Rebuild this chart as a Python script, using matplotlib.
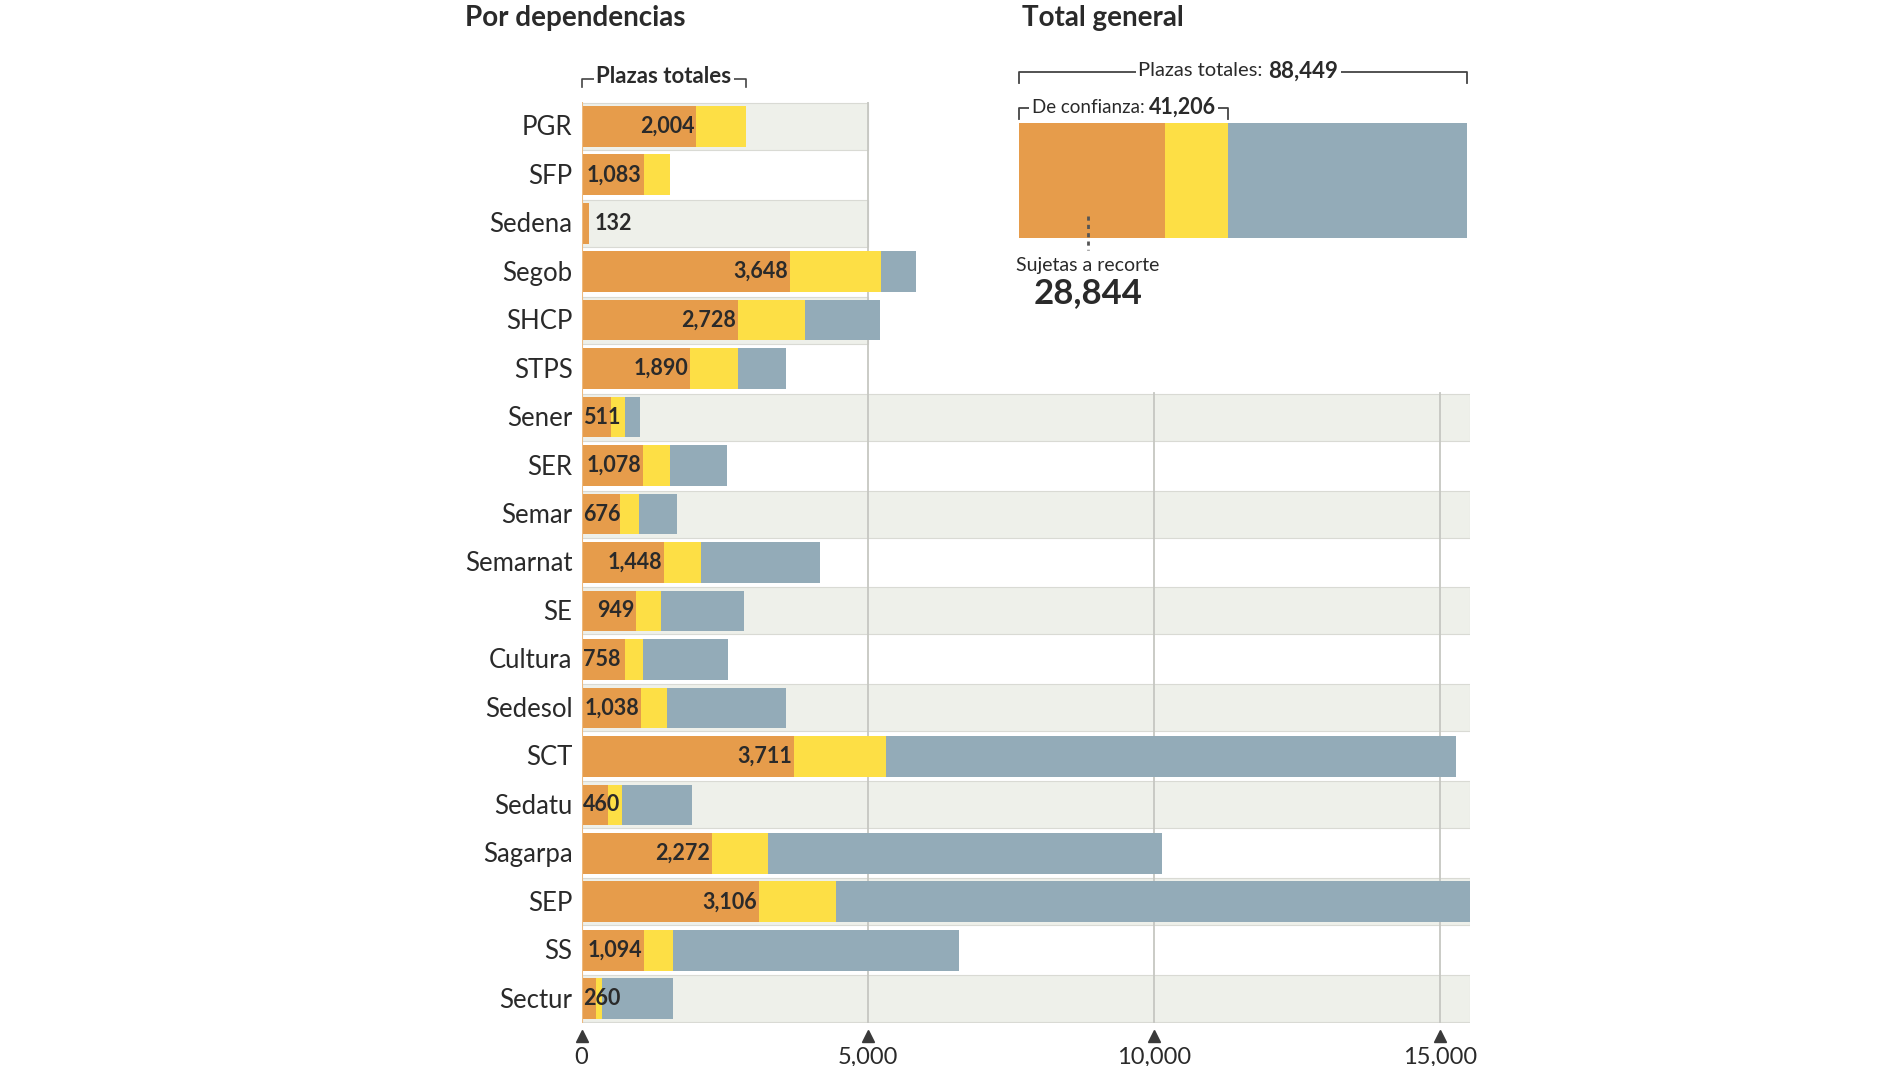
import numpy as np
import matplotlib.pyplot as plt

plt.rcParams['font.family'] = ['Lato', 'DejaVu Sans']

# data
dependencias = ['PGR', 'SFP', 'Sedena', 'Segob', 'SHCP', 'STPS', 'Sener', 'SER',
                'Semar', 'Semarnat', 'SE', 'Cultura', 'Sedesol', 'SCT', 'Sedatu',
                'Sagarpa', 'SEP', 'SS', 'Sectur']
# plazas sujetas a recorte (orange)
recorte = [2004, 1083, 132, 3648, 2728, 1890, 511, 1078, 676, 1448, 949, 758,
           1038, 3711, 460, 2272, 3106, 1094, 260]
# plazas de confianza (orange + yellow)
confianza = [2880, 1550, 132, 5230, 3900, 2730, 760, 1550, 1000, 2080, 1380,
             1080, 1500, 5320, 700, 3260, 4450, 1590, 360]
# plazas totales (whole bar)
totales = [2880, 1550, 132, 5850, 5210, 3580, 1020, 2540, 1670, 4170, 2840,
           2560, 3580, 15280, 1930, 10150, 15700, 6590, 1590]

total_plazas = 88449
total_confianza = 41206
total_recorte = 28844

ticks = [0, 5000, 10000, 15000]
tick_labels = ['0', '5,000', '10,000', '15,000']

c_orange = '#E69C4B'
c_yellow = '#FDDF45'
c_blue = '#93ABB8'
c_band = '#EEF0EA'
c_band_edge = '#D9DAD4'
c_grid = '#C6C7C2'
c_text = '#2A2A2A'

W, H = 1900, 1066
fig = plt.figure(figsize=(19, 10.66), dpi=100)


def fx(x):
    return x / W


def fy(y):
    return 1 - y / H


# ---- main chart: por dependencias ----
n = len(dependencias)
xmax = 15530
ax = fig.add_axes([fx(581.6), fy(1023), fx(1470) - fx(581.6), fy(102) - fy(1023)])
ax.set_xlim(0, xmax)
ax.set_ylim(n - 0.5, -0.5)
ax.axis('off')

y = np.arange(n)
rec = np.array(recorte)
conf = np.array(confianza)
tot = np.array(totales)

# alternating background bands (top rows stop at 5,000 to leave room for the inset)
for i in range(n):
    if i % 2 == 0:
        right = 5000 if i < 6 else xmax
        ax.barh(i, right, height=0.97, color=c_band, edgecolor=c_band_edge,
                linewidth=0.8, zorder=0)

# grid lines
ax.plot([5000, 5000], [-0.5, n - 0.5], color=c_grid, lw=1.3, zorder=1)
for t in [10000, 15000]:
    ax.plot([t, t], [5.5, n - 0.5], color=c_grid, lw=1.3, zorder=1)

bh = 0.84
ax.barh(y, rec, height=bh, color=c_orange, zorder=2)
ax.barh(y, conf - rec, left=rec, height=bh, color=c_yellow, zorder=2)
ax.barh(y, tot - conf, left=conf, height=bh, color=c_blue, zorder=2)

# zero line
ax.plot([0, 0], [-0.5, n - 0.5], color='#EDB97E', lw=1.5, zorder=3)

for i, (name, v) in enumerate(zip(dependencias, recorte)):
    ax.text(-160, i + 0.03, name, ha='right', va='center', fontsize=18.5,
            color=c_text)
    label = f'{v:,}'
    if v >= 900:
        ax.text(v - 30, i, label, ha='right', va='center', fontsize=15.5,
                fontweight='bold', color=c_text, zorder=4)
    elif v < 200:
        ax.text(v + 90, i, label, ha='left', va='center', fontsize=15.5,
                fontweight='bold', color=c_text, zorder=4)
    else:
        ax.text(30, i, label, ha='left', va='center', fontsize=15.5,
                fontweight='bold', color=c_text, zorder=4)

# tick markers and labels below the chart
for t, lab in zip(ticks, tick_labels):
    ax.plot(t, n - 0.5 + 0.27, marker='^', ms=8, color='#3A3A3A', clip_on=False)
    ax.text(t, n - 0.5 + 0.5, lab, ha='center', va='top', fontsize=17,
            color=c_text)

# bracket "Plazas totales" over the first bar
by = -0.5 - (102 - 79) / 48.47
bt = -0.5 - (102 - 87) / 48.47
ax.plot([0, 0, totales[0], totales[0]], [bt, by, by, bt], color='#444444',
        lw=1.2, clip_on=False)
ax.text(totales[0] / 2, by - 0.05, 'Plazas totales', ha='center', va='center',
        fontsize=16, fontweight='bold', color=c_text,
        bbox=dict(fc='white', ec='none', pad=1.5))

fig.text(fx(465), fy(18), 'Por dependencias', ha='left', va='center',
         fontsize=20, fontweight='bold', color=c_text)

# ---- inset: total general ----
iax = fig.add_axes([fx(1019), fy(238), fx(1467) - fx(1019), fy(123) - fy(238)])
iax.set_xlim(0, total_plazas)
iax.set_ylim(0, 1)
iax.axis('off')
iax.barh(0.5, total_recorte, height=1, color=c_orange)
iax.barh(0.5, total_confianza - total_recorte, left=total_recorte, height=1,
         color=c_yellow)
iax.barh(0.5, total_plazas - total_confianza, left=total_confianza, height=1,
         color=c_blue)

tr = iax.get_xaxis_transform()
# outer bracket: plazas totales
y1, y1b = (238 - 72) / 115, (238 - 83) / 115
iax.plot([0, 0, total_plazas, total_plazas], [y1b, y1, y1, y1b], transform=tr,
         color='#444444', lw=1.3, clip_on=False)
# inner bracket: de confianza
y2, y2b = (238 - 108) / 115, (238 - 119) / 115
iax.plot([0, 0, total_confianza, total_confianza], [y2b, y2, y2, y2b],
         transform=tr, color='#444444', lw=1.3, clip_on=False)

fig.text(fx(1268), fy(71), 'Plazas totales: ', ha='right', va='center',
         fontsize=14.5, color=c_text,
         bbox=dict(fc='white', ec='none', pad=2))
fig.text(fx(1268), fy(71), f'{total_plazas:,}', ha='left', va='center',
         fontsize=16, fontweight='bold', color=c_text,
         bbox=dict(fc='white', ec='none', pad=2))
fig.text(fx(1149), fy(107), 'De confianza: ', ha='right', va='center',
         fontsize=13.5, color=c_text,
         bbox=dict(fc='white', ec='none', pad=1.5))
fig.text(fx(1149), fy(107), f'{total_confianza:,}', ha='left', va='center',
         fontsize=15.5, fontweight='bold', color=c_text,
         bbox=dict(fc='white', ec='none', pad=1.5))

# dotted pointer and "sujetas a recorte" label
fig.add_artist(plt.Line2D([fx(1088), fx(1088)], [fy(216), fy(250)],
                          transform=fig.transFigure, color='#555555', lw=2,
                          linestyle=(0, (1.5, 1.5))))
fig.text(fx(1088), fy(265), 'Sujetas a recorte', ha='center', va='center',
         fontsize=14, color=c_text)
fig.text(fx(1088), fy(293), f'{total_recorte:,}', ha='center', va='center',
         fontsize=25, fontweight='bold', color=c_text)

fig.text(fx(1022), fy(18), 'Total general', ha='left', va='center',
         fontsize=20, fontweight='bold', color=c_text)

fig.savefig('out.png', dpi=100)
